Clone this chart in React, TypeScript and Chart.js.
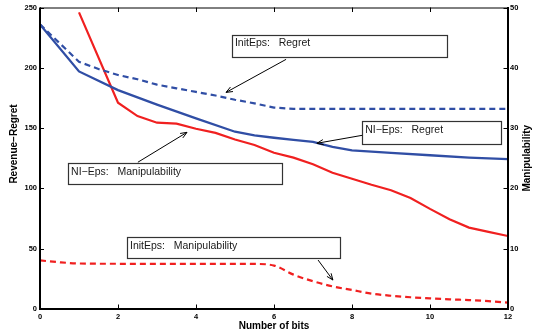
import { useEffect, useRef } from "react";
import { Chart, registerables } from "chart.js";

Chart.register(...registerables);

// ---- data ----
const niRegretX = [0, 1, 2, 3, 4, 5, 5.5, 6, 6.5, 7, 7.5, 8, 9, 10, 11, 12];
const niRegretY = [236, 197, 181.5, 169.5, 158, 147, 144, 142, 140.3, 138.6, 134.4, 131.6, 129.4, 127.5, 125.6, 124.3];

const initRegretX = [0, 1, 1.5, 2, 2.5, 3, 3.5, 4, 4.5, 5, 5.5, 6, 6.5, 7, 8, 9, 10, 11, 12];
const initRegretY = [236, 205, 199, 194, 190.5, 186, 183, 180, 177, 173.5, 170.5, 167, 166, 166, 166, 166, 166, 166, 166];

const niManipX = [1, 2, 2.5, 3, 3.5, 4, 4.5, 5, 5.5, 6, 6.5, 7, 7.5, 8, 8.5, 9, 9.5, 10, 10.5, 11, 11.5, 12];
const niManipY = [49.2, 34.2, 32.0, 30.9, 30.75, 29.9, 29.2, 28.1, 27.2, 25.9, 25.1, 24.0, 22.6, 21.6, 20.6, 19.7, 18.4, 16.6, 14.9, 13.5, 12.8, 12.1];

const initManipX = [0, 0.5, 1, 2, 3, 4, 5, 5.5, 6, 6.5, 7, 7.5, 8, 8.5, 9, 9.5, 10, 10.5, 11, 11.5, 12];
const initManipY = [8.06, 7.75, 7.55, 7.5, 7.5, 7.5, 7.5, 7.48, 7.2, 5.7, 4.6, 3.75, 3.15, 2.55, 2.2, 1.95, 1.77, 1.6, 1.48, 1.3, 1.05];

const xTickValues = [0, 2, 4, 6, 8, 10, 12];
const leftTickValues = [0, 50, 100, 150, 200, 250];
const rightTickValues = [0, 10, 20, 30, 40, 50];

const xTitle = "Number of bits";
const leftTitle = "Revenue\u2212Regret";
const rightTitle = "Manipulability";

// annotations in data units (x, left-axis y)
const annotations = [
  { text: "InitEps:   Regret", box: [4.92, 227.6, 10.44, 209.4], from: [6.31, 207], to: [4.77, 179.6] },
  { text: "NI\u2212Eps:   Regret", box: [8.26, 155.6, 11.82, 136.6], from: [8.26, 144], to: [7.1, 137.4] },
  { text: "NI\u2212Eps:   Manipulability", box: [0.72, 120.9, 6.21, 103.5], from: [2.51, 121.7], to: [3.77, 146.5] },
  { text: "InitEps:   Manipulability", box: [2.23, 59.6, 7.69, 42.2], from: [7.13, 40.6], to: [7.51, 24] },
];

const BLUE = "rgb(48,78,165)";
const RED = "rgb(240,32,32)";
const FONT = "'Liberation Sans', Arial, Helvetica, sans-serif";

const toPts = (xs: number[], ys: number[]) => xs.map((x, i) => ({ x, y: ys[i] }));

const overlay = {
  id: "overlay",
  afterDraw(chart: any) {
    const { ctx, chartArea: a, scales } = chart;
    const sx = scales.x;
    const sy = scales.y;
    const sy2 = scales.y2;
    ctx.save();
    // annotations
    ctx.font = `10.5px ${FONT}`;
    for (const an of annotations) {
      const x1 = sx.getPixelForValue(an.box[0]);
      const y1 = sy.getPixelForValue(an.box[1]);
      const x2 = sx.getPixelForValue(an.box[2]);
      const y2 = sy.getPixelForValue(an.box[3]);
      ctx.fillStyle = "#fff";
      ctx.fillRect(x1, y1, x2 - x1, y2 - y1);
      ctx.strokeStyle = "#333";
      ctx.lineWidth = 1.2;
      ctx.strokeRect(Math.round(x1) + 0.5, Math.round(y1) + 0.5, Math.round(x2 - x1), Math.round(y2 - y1));
      ctx.fillStyle = "#1a1a1a";
      ctx.textAlign = "left";
      ctx.textBaseline = "middle";
      ctx.fillText(an.text, x1 + 3, y1 + 9);
      // arrow
      const fx = sx.getPixelForValue(an.from[0]);
      const fy = sy.getPixelForValue(an.from[1]);
      const tx = sx.getPixelForValue(an.to[0]);
      const ty = sy.getPixelForValue(an.to[1]);
      ctx.strokeStyle = "#000";
      ctx.lineWidth = 1;
      ctx.beginPath();
      ctx.moveTo(fx, fy);
      ctx.lineTo(tx, ty);
      const ang = Math.atan2(ty - fy, tx - fx);
      const hl = 7;
      const ha = 0.38;
      ctx.moveTo(tx - hl * Math.cos(ang - ha), ty - hl * Math.sin(ang - ha));
      ctx.lineTo(tx, ty);
      ctx.lineTo(tx - hl * Math.cos(ang + ha), ty - hl * Math.sin(ang + ha));
      ctx.stroke();
    }
    // frame
    ctx.strokeStyle = "#000";
    ctx.lineWidth = 2;
    ctx.beginPath();
    ctx.moveTo(a.left, a.top);
    ctx.lineTo(a.left, a.bottom);
    ctx.lineTo(a.right, a.bottom);
    ctx.lineTo(a.right, a.top - 0.5);
    ctx.stroke();
    ctx.lineWidth = 1;
    ctx.beginPath();
    ctx.moveTo(a.left, a.top + 0.5);
    ctx.lineTo(a.right, a.top + 0.5);
    ctx.stroke();
    // ticks (inward)
    ctx.lineWidth = 1;
    ctx.beginPath();
    for (const v of xTickValues) {
      const px = Math.round(sx.getPixelForValue(v)) + 0.5;
      ctx.moveTo(px, a.bottom);
      ctx.lineTo(px, a.bottom - 4.5);
      ctx.moveTo(px, a.top);
      ctx.lineTo(px, a.top + 4.5);
    }
    for (const v of leftTickValues) {
      const py = Math.round(sy.getPixelForValue(v)) + 0.5;
      ctx.moveTo(a.left, py);
      ctx.lineTo(a.left + 4, py);
    }
    for (const v of rightTickValues) {
      const py = Math.round(sy2.getPixelForValue(v)) + 0.5;
      ctx.moveTo(a.right, py);
      ctx.lineTo(a.right - 4.5, py);
    }
    ctx.stroke();
    // titles
    ctx.fillStyle = "#000";
    ctx.font = `bold 10px ${FONT}`;
    ctx.textAlign = "center";
    ctx.textBaseline = "middle";
    ctx.fillText(xTitle, (a.left + a.right) / 2, 326);
    ctx.save();
    ctx.translate(14, 144);
    ctx.rotate(-Math.PI / 2);
    ctx.fillText(leftTitle, 0, 0);
    ctx.restore();
    ctx.save();
    ctx.translate(527, (a.top + a.bottom) / 2);
    ctx.rotate(-Math.PI / 2);
    ctx.fillText(rightTitle, 0, 0);
    ctx.restore();
    ctx.restore();
  },
};

export default function App() {
  const ref = useRef<HTMLCanvasElement>(null);
  useEffect(() => {
    if (!ref.current) return;
    const tickFont = { family: FONT, size: 7.5, weight: "bold" as const };
    const chart = new Chart(ref.current, {
      type: "line",
      data: {
        datasets: [
          {
            label: "InitEps: Regret",
            data: toPts(initRegretX, initRegretY),
            borderColor: BLUE,
            borderWidth: 2.2,
            borderDash: [6, 4],
            pointRadius: 0,
            tension: 0,
            yAxisID: "y",
          },
          {
            label: "NI-Eps: Regret",
            data: toPts(niRegretX, niRegretY),
            borderColor: BLUE,
            borderWidth: 2.3,
            pointRadius: 0,
            tension: 0,
            yAxisID: "y",
          },
          {
            label: "NI-Eps: Manipulability",
            data: toPts(niManipX, niManipY),
            borderColor: RED,
            borderWidth: 2.2,
            pointRadius: 0,
            tension: 0,
            yAxisID: "y2",
          },
          {
            label: "InitEps: Manipulability",
            data: toPts(initManipX, initManipY),
            borderColor: RED,
            borderWidth: 2.2,
            borderDash: [6, 4],
            pointRadius: 0,
            cubicInterpolationMode: "monotone",
            yAxisID: "y2",
          },
        ],
      },
      options: {
        responsive: false,
        animation: false,
        layout: { padding: { top: 7, left: 0, right: 0, bottom: 0 } },
        plugins: { legend: { display: false }, tooltip: { enabled: false } },
        scales: {
          x: {
            type: "linear",
            min: 0,
            max: 12,
            grid: { display: false, drawTicks: false },
            border: { display: false },
            afterBuildTicks: (s: any) => {
              s.ticks = xTickValues.map((v) => ({ value: v }));
            },
            ticks: { font: tickFont, color: "#000", padding: 3, maxRotation: 0 },
            afterFit: (s: any) => {
              s.height = 26;
            },
          },
          y: {
            type: "linear",
            position: "left",
            min: 0,
            max: 250,
            grid: { display: false, drawTicks: false },
            border: { display: false },
            afterBuildTicks: (s: any) => {
              s.ticks = leftTickValues.map((v) => ({ value: v }));
            },
            ticks: { font: tickFont, color: "#000", padding: 3 },
            afterFit: (s: any) => {
              s.width = 40;
            },
          },
          y2: {
            type: "linear",
            position: "right",
            min: 0,
            max: 50,
            grid: { display: false, drawTicks: false },
            border: { display: false },
            afterBuildTicks: (s: any) => {
              s.ticks = rightTickValues.map((v) => ({ value: v }));
            },
            ticks: { font: tickFont, color: "#000", padding: 2 },
            afterFit: (s: any) => {
              s.width = 26;
            },
          },
        },
      },
      plugins: [overlay],
    });
    return () => chart.destroy();
  }, []);
  return (
    <div style={{ position: "fixed", left: 0, top: 0, width: 534, height: 335, background: "#fff" }}>
      <canvas ref={ref} width={534} height={335} style={{ width: 534, height: 335, display: "block" }} />
    </div>
  );
}
